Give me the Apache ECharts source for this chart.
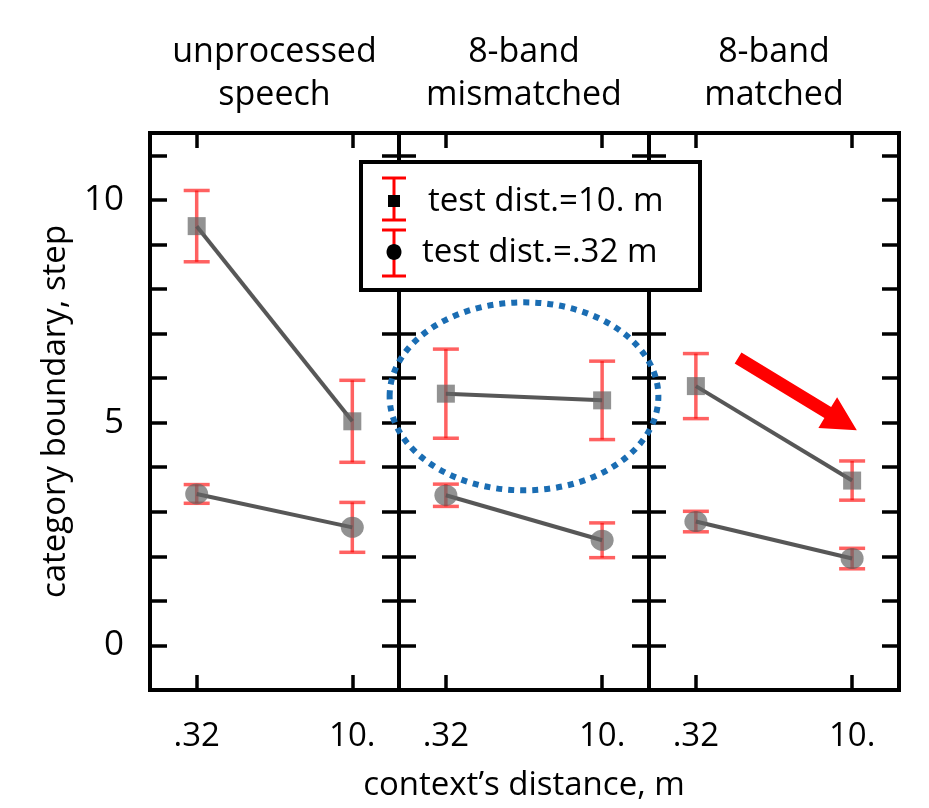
<!DOCTYPE html>
<html>
<head>
<meta charset="utf-8">
<script src="https://cdn.jsdelivr.net/npm/echarts@6/dist/echarts.min.js"></script>
<style>
  html, body { margin: 0; padding: 0; background: #fff; }
  #root { width: 929px; height: 808px; }
</style>
</head>
<body>
<div id="root"></div>
<script>
// context distance categories (x positions 0 and 1 in each panel)
const categories = ['.32', '10.'];
const panelTitles = ['unprocessed\nspeech', '8-band\nmismatched', '8-band\nmatched'];
const yTickLabels = [0, 5, 10];

// test dist. = 10 m  (squares), per panel: [.32, 10.]
const farMeans = [[9.41, 5.03], [5.65, 5.50], [5.82, 3.70]];
const farErr = [[0.80, 0.92], [1.00, 0.88], [0.73, 0.44]];
// test dist. = .32 m (circles)
const nearMeans = [[3.40, 2.65], [3.37, 2.36], [2.78, 1.95]];
const nearErr = [[0.21, 0.56], [0.25, 0.39], [0.23, 0.23]];

const FONT = 'Open Sans';
const gridLefts = [150, 399, 649];
const gridWidths = [249, 250, 250];

const chart = echarts.init(document.getElementById('root'));

const errColor = 'rgba(255,0,0,0.62)';
function renderErr (params, api) {
  const x = api.value(0);
  const lo = api.value(1);
  const hi = api.value(2);
  const a = api.coord([x, hi]);
  const b = api.coord([x, lo]);
  const w = 13;
  const st = { stroke: errColor, lineWidth: 3.5 };
  return {
    type: 'group',
    children: [
      { type: 'line', shape: { x1: a[0], y1: a[1], x2: b[0], y2: b[1] }, style: st },
      { type: 'line', shape: { x1: a[0] - w, y1: a[1], x2: a[0] + w, y2: a[1] }, style: st },
      { type: 'line', shape: { x1: b[0] - w, y1: b[1], x2: b[0] + w, y2: b[1] }, style: st }
    ]
  };
}

const grids = [];
const xAxes = [];
const yAxes = [];
const series = [];
const axisLine = { show: true, onZero: false, lineStyle: { color: '#000', width: 4 } };
const tickStyle = { color: '#000', width: 3.5 };

for (let i = 0; i < 3; i++) {
  grids.push({
    left: gridLefts[i], width: gridWidths[i], top: 133, bottom: 118,
    show: true, borderColor: '#000', borderWidth: 4, backgroundColor: 'transparent'
  });
  const xBase = {
    gridIndex: i, type: 'value', min: -0.3, max: 1.3,
    axisLine: axisLine, splitLine: { show: false },
    axisTick: { show: true, inside: true, length: 15, lineStyle: tickStyle, customValues: [0, 1] }
  };
  xAxes.push(Object.assign({}, xBase, {
    position: 'bottom',
    axisLabel: {
      show: true, customValues: [0, 1], margin: 30,
      formatter: v => categories[Math.round(v)],
      fontFamily: FONT, fontSize: 33, color: '#000'
    }
  }));
  xAxes.push(Object.assign({}, xBase, { position: 'top', axisLabel: { show: false } }));

  const yBase = {
    gridIndex: i, type: 'value', min: -1, max: 11.5, interval: 1,
    axisLine: axisLine, splitLine: { show: false },
    axisTick: { show: true, inside: true, length: 17, lineStyle: tickStyle }
  };
  yAxes.push(Object.assign({}, yBase, {
    position: 'left',
    axisLabel: {
      show: i === 0, margin: 26,
      formatter: v => (yTickLabels.indexOf(v) >= 0 ? String(v) : ''),
      fontFamily: FONT, fontSize: 35, color: '#000'
    },
    name: i === 0 ? 'category boundary, step' : '',
    nameLocation: 'middle', nameGap: 78, nameRotate: 90,
    nameTextStyle: { fontFamily: FONT, fontSize: 33, color: '#000' }
  }));
  yAxes.push(Object.assign({}, yBase, { position: 'right', axisLabel: { show: false } }));

  const xi = i * 2;
  const yi = i * 2;
  const groups = [
    { m: farMeans[i], e: farErr[i], sym: 'rect', size: [18, 18] },
    { m: nearMeans[i], e: nearErr[i], sym: 'circle', size: [23, 21] }
  ];
  groups.forEach(g => {
    series.push({
      type: 'custom', xAxisIndex: xi, yAxisIndex: yi, z: 2,
      renderItem: renderErr,
      data: g.m.map((v, k) => [k, v - g.e[k], v + g.e[k]])
    });
    series.push({
      type: 'line', xAxisIndex: xi, yAxisIndex: yi, z: 3,
      symbol: g.sym, symbolSize: g.size,
      itemStyle: { color: 'rgba(100,100,100,0.7)' },
      lineStyle: { color: 'rgba(45,45,45,0.8)', width: 4 },
      data: g.m.map((v, k) => [k, v])
    });
  });
}

const graphics = [];
panelTitles.forEach((t, i) => {
  graphics.push({
    type: 'text', x: gridLefts[i] + gridWidths[i] / 2, y: 74,
    style: {
      text: t, fontFamily: FONT, fontSize: 34, lineHeight: 43,
      fill: '#000', align: 'center', verticalAlign: 'middle'
    }
  });
});
graphics.push({
  type: 'text', x: 524, y: 786,
  style: { text: 'context\u2019s distance, m', fontFamily: FONT, fontSize: 33, fill: '#000', align: 'center', verticalAlign: 'middle' }
});

chart.setOption({
  animation: false,
  backgroundColor: '#fff',
  grid: grids,
  xAxis: xAxes,
  yAxis: yAxes,
  series: series,
  graphic: graphics
});

// annotations placed from data coordinates
const c = chart.convertToPixel({ gridIndex: 1 }, [0.5, 5.59]);
const e1 = chart.convertToPixel({ gridIndex: 1 }, [1.36, 7.7]);
const tail = chart.convertToPixel({ gridIndex: 2 }, [0.27, 6.45]);
const tip = chart.convertToPixel({ gridIndex: 2 }, [1.03, 4.83]);

const dx = tip[0] - tail[0];
const dy = tip[1] - tail[1];
const len = Math.sqrt(dx * dx + dy * dy);
const ux = dx / len;
const uy = dy / len;
const nx = -uy;
const ny = ux;
const hl = 34; const hw = 18; const sw = 6.5;
const bx = tip[0] - ux * hl;
const by = tip[1] - uy * hl;
const arrowPts = [
  [tail[0] + nx * sw, tail[1] + ny * sw],
  [bx + nx * sw, by + ny * sw],
  [bx + nx * hw, by + ny * hw],
  [tip[0], tip[1]],
  [bx - nx * hw, by - ny * hw],
  [bx - nx * sw, by - ny * sw],
  [tail[0] - nx * sw, tail[1] - ny * sw]
];

const legendItems = [
  { type: 'rect', shape: { x: 361, y: 162, width: 339, height: 128 }, style: { fill: '#fff', stroke: '#000', lineWidth: 4 } },
  { type: 'line', shape: { x1: 394, y1: 178, x2: 394, y2: 220 }, style: { stroke: 'red', lineWidth: 3 } },
  { type: 'line', shape: { x1: 382, y1: 178, x2: 406, y2: 178 }, style: { stroke: 'red', lineWidth: 3 } },
  { type: 'line', shape: { x1: 382, y1: 220, x2: 406, y2: 220 }, style: { stroke: 'red', lineWidth: 3 } },
  { type: 'rect', shape: { x: 388, y: 195, width: 12, height: 12 }, style: { fill: '#000' } },
  { type: 'line', shape: { x1: 394, y1: 230, x2: 394, y2: 276 }, style: { stroke: 'red', lineWidth: 3 } },
  { type: 'line', shape: { x1: 382, y1: 230, x2: 406, y2: 230 }, style: { stroke: 'red', lineWidth: 3 } },
  { type: 'line', shape: { x1: 382, y1: 276, x2: 406, y2: 276 }, style: { stroke: 'red', lineWidth: 3 } },
  { type: 'ellipse', shape: { cx: 394, cy: 252, rx: 7.5, ry: 8 }, style: { fill: '#000' } },
  { type: 'text', x: 428, y: 202, style: { text: 'test dist.=10. m', fontFamily: FONT, fontSize: 33, fill: '#000', verticalAlign: 'middle' } },
  { type: 'text', x: 422, y: 253, style: { text: 'test dist.=.32 m', fontFamily: FONT, fontSize: 33, fill: '#000', verticalAlign: 'middle' } }
];
legendItems.forEach(g => { g.z = 100; });

chart.setOption({
  graphic: graphics.concat([
    {
      type: 'ellipse', z: 90,
      shape: { cx: c[0], cy: c[1], rx: e1[0] - c[0], ry: c[1] - e1[1] },
      style: { fill: 'none', stroke: '#1a6db3', lineWidth: 6, lineDash: [6, 6] }
    },
    { type: 'polygon', z: 90, shape: { points: arrowPts }, style: { fill: '#ff0000' } }
  ], legendItems)
});
</script>
</body>
</html>
